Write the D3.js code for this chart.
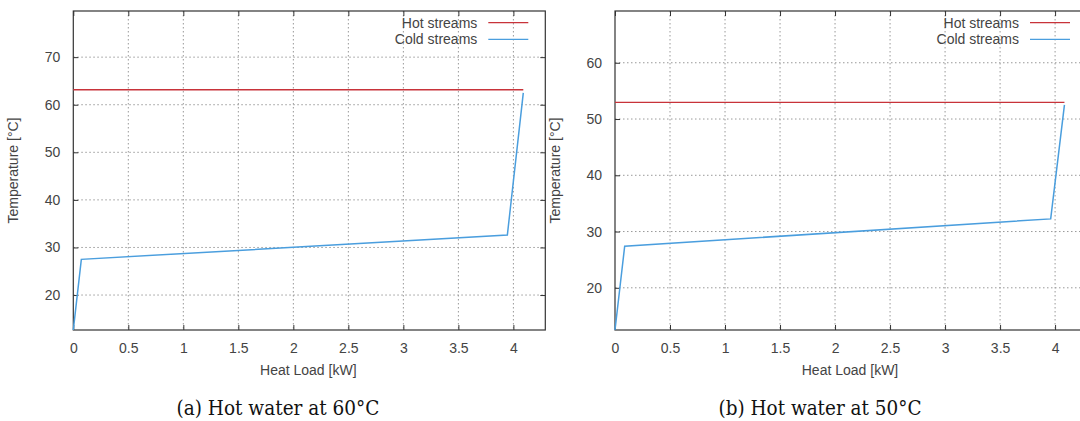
<!DOCTYPE html>
<html><head><meta charset="utf-8">
<script src="https://cdn.jsdelivr.net/npm/d3@7"></script>
<style>
body{margin:0;background:#fff;}
svg{display:block;}
text{font-family:"Liberation Sans",Arial,sans-serif;}
</style></head>
<body><svg id="c" width="1080" height="421"></svg>
<script>
// ---- data ----
const xTicks = [0,0.5,1,1.5,2,2.5,3,3.5,4];
const yTicksA = [20,30,40,50,60,70];
const yTicksB = [20,30,40,50,60];
const hotA = [[0,63.15],[4.09,63.15]];
const coldA = [[0,12.65],[0.073,27.5],[3.945,32.6],[4.09,62.5]];
const hotB = [[0,52.95],[4.085,52.95]];
const coldB = [[0,12.5],[0.088,27.4],[3.96,32.25],[4.085,52.5]];
const xDomain = [0,4.29];
const yDomainA = [12.65,79.7];
const yDomainB = [12.5,69.2];
const seriesNames = ["Hot streams","Cold streams"];
const captions = ["(a) Hot water at 60°C","(b) Hot water at 50°C"];
const xLabel = "Heat Load [kW]";
const yLabel = "Temperature [°C]";

const svg = d3.select("#c");
const hotColor = "#c8333a", coldColor = "#4a9ede";
const textColor = "#444";

function panel(left, yDom, yTicks, hot, cold, caption, capCx){
  const top=11, bottom=330, width=472;
  const x = d3.scaleLinear().domain(xDomain).range([left,left+width]);
  const y = d3.scaleLinear().domain(yDom).range([bottom,top]);
  const g = svg.append("g");
  // grid
  g.selectAll(".gx").data(xTicks.filter(d=>d>0)).join("line")
    .attr("x1",d=>x(d)).attr("x2",d=>x(d)).attr("y1",top).attr("y2",bottom)
    .attr("stroke","#999").attr("stroke-width",1).attr("stroke-dasharray","1.5,2.5");
  g.selectAll(".gy").data(yTicks).join("line")
    .attr("x1",left).attr("x2",left+width).attr("y1",d=>y(d)).attr("y2",d=>y(d))
    .attr("stroke","#999").attr("stroke-width",1).attr("stroke-dasharray","1.5,2.5");
  // axes (inward ticks, mirrored)
  const axB = d3.axisBottom(x).tickValues(xTicks).tickSize(-5).tickPadding(13).tickFormat(d3.format("~g"));
  const axT = d3.axisTop(x).tickValues(xTicks).tickSize(-5).tickFormat("");
  const axL = d3.axisLeft(y).tickValues(yTicks).tickSize(-5).tickPadding(13).tickFormat(d3.format("~g"));
  const axR = d3.axisRight(y).tickValues(yTicks).tickSize(-5).tickFormat("");
  const gb = g.append("g").attr("transform",`translate(0,${bottom})`).call(axB);
  const gt = g.append("g").attr("transform",`translate(0,${top})`).call(axT);
  const gl = g.append("g").attr("transform",`translate(${left},0)`).call(axL);
  const gr = g.append("g").attr("transform",`translate(${left+width},0)`).call(axR);
  [gb,gt,gl,gr].forEach(a=>{
    a.select(".domain").remove();
    a.selectAll(".tick line").attr("stroke","#333");
    a.selectAll(".tick text").attr("fill",textColor).style("font-size","14px");
  });
  // frame
  g.append("rect").attr("x",left).attr("y",top).attr("width",width).attr("height",bottom-top)
    .attr("fill","none").attr("stroke","#333").attr("stroke-width",1.2);
  // lines
  const line = d3.line().x(d=>x(d[0])).y(d=>y(d[1]));
  g.append("path").datum(hot).attr("d",line).attr("fill","none").attr("stroke",hotColor).attr("stroke-width",1.3);
  g.append("path").datum(cold).attr("d",line).attr("fill","none").attr("stroke",coldColor).attr("stroke-width",1.5);
  // legend
  const lgTextX = left + 404, lgX1 = left + 415, lgX2 = left + 455;
  [[seriesNames[0],hotColor,22.7],[seriesNames[1],coldColor,39.3]].forEach(([n,c,yy])=>{
    g.append("text").attr("x",lgTextX).attr("y",yy+5).attr("text-anchor","end")
      .attr("fill",textColor).style("font-size","14px").text(n);
    g.append("line").attr("x1",lgX1).attr("x2",lgX2).attr("y1",yy).attr("y2",yy)
      .attr("stroke",c).attr("stroke-width",1.3);
  });
  // axis labels
  g.append("text").attr("x",left+width/2-1).attr("y",375).attr("text-anchor","middle")
    .attr("fill",textColor).style("font-size","14px").text(xLabel);
  g.append("text").attr("transform",`translate(${left-55},${(top+bottom)/2}) rotate(-90)`)
    .attr("text-anchor","middle").attr("fill",textColor).style("font-size","14px").text(yLabel);
  // caption
  g.append("text").attr("x",capCx).attr("y",415).attr("text-anchor","middle")
    .attr("textLength",203).attr("lengthAdjust","spacingAndGlyphs")
    .style("font-family","'DejaVu Serif','Liberation Serif',serif").style("font-size","20px")
    .attr("fill","#111").text(caption);
}
panel(73.3, yDomainA, yTicksA, hotA, coldA, captions[0], 278);
panel(615, yDomainB, yTicksB, hotB, coldB, captions[1], 820);
</script></body></html>
